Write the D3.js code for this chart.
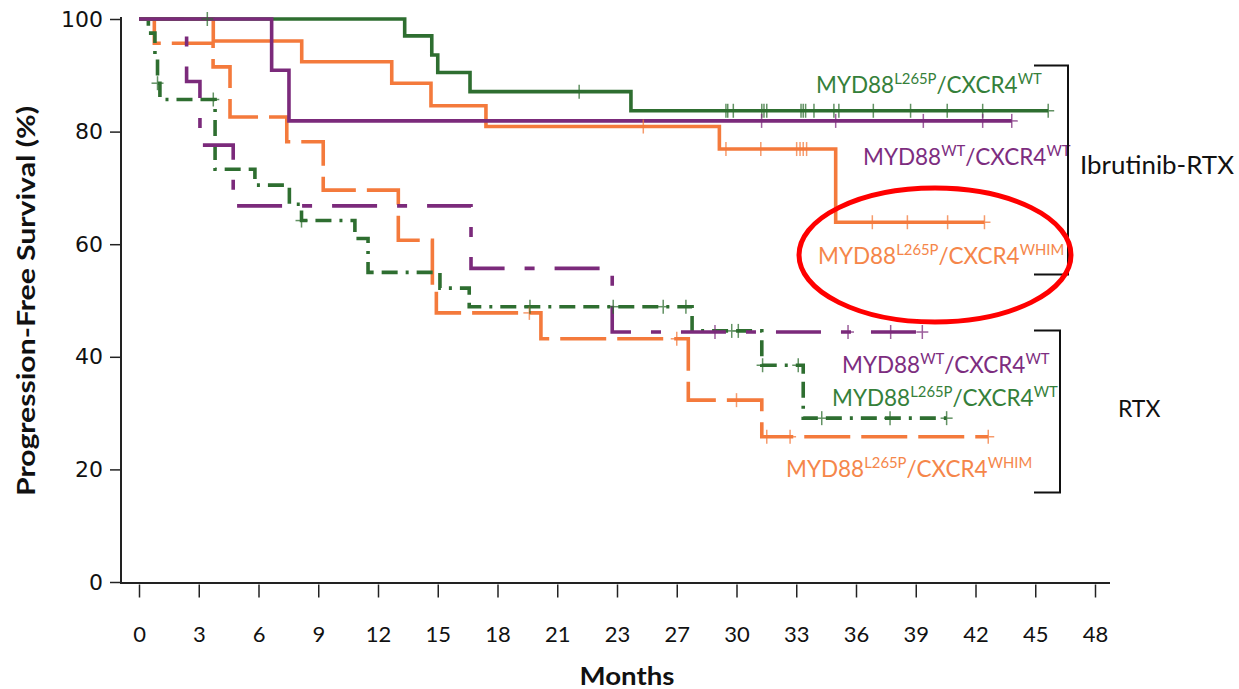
<!DOCTYPE html>
<html><head><meta charset="utf-8">
<script src="https://cdn.jsdelivr.net/npm/d3@7/dist/d3.min.js"></script>
<style>
html,body{margin:0;padding:0;background:#fff;}
svg{display:block;}
</style></head>
<body>
<svg id="chart" width="1239" height="689"></svg>
<script>
// ---------------- DATA ----------------
const xTickValues = [0,3,6,9,12,15,18,21,24,27,30,33,36,39,42,45,48];
const xTickLabels = ["0","3","6","9","12","15","18","21","23","27","30","33","36","39","42","45","48"];
const yTickValues = [0,20,40,60,80,100];

// Ibrutinib-RTX, MYD88 L265P / CXCR4 WT (green solid)
const ibrL265pWtSteps = [[0,100],[13.34,97.0],[14.70,93.6],[15.0,90.5],[16.62,87.1],[24.70,83.7]];
const ibrL265pWtEnd = 45.65;
const ibrL265pWtCensor = [3.43,22.1,29.47,29.56,29.84,31.27,31.38,31.52,33.24,33.35,33.47,33.89,34.89,35.14,36.87,38.74,40.58,42.36,45.65];

// Ibrutinib-RTX, MYD88 WT / CXCR4 WT (purple solid)
const ibrWtWtSteps = [[0,100],[6.66,90.9],[7.53,81.9]];
const ibrWtWtEnd = 43.82;
const ibrWtWtCensor = [31.26,34.98,39.38,42.36,43.82];

// Ibrutinib-RTX, MYD88 L265P / CXCR4 WHIM (orange solid)
const ibrL265pWhimSteps = [[0,100],[3.73,96.1],[8.17,92.4],[12.69,88.6],[14.66,84.6],[17.42,80.9],[29.14,76.9],[34.98,63.9]];
const ibrL265pWhimEnd = 42.45;
const ibrL265pWhimCensor = [25.32,29.47,31.22,33.02,33.19,33.35,33.52,36.82,38.58,40.6,42.45];

// RTX, MYD88 WT / CXCR4 WT (purple long-short dash)
const rtxWtWtSteps = [[0,100],[2.39,88.9],[3.06,77.6],[4.73,66.8],[16.67,55.7],[23.76,44.4]];
const rtxWtWtEnd = 39.33;
const rtxWtWtCensor = [28.92,35.6,37.74,39.33];

// RTX, MYD88 L265P / CXCR4 WT (green dash-dash-dot)
const rtxL265pWtSteps = [[0,100],[0.47,97.5],[0.80,93.6],[0.93,88.6],[1.05,85.7],[3.82,73.3],[5.82,70.5],[7.55,67.1],[8.16,64.2],[10.84,61.0],[11.5,55.0],[15.11,52.2],[16.58,48.9],[27.77,44.6],[31.27,38.5],[33.35,29.1]];
const rtxL265pWtEnd = 40.55;
const rtxL265pWtCensor = [0.93,3.73,8.16,19.63,23.81,26.32,27.46,29.76,30.09,31.31,33.1,34.28,37.71,40.55];

// RTX, MYD88 L265P / CXCR4 WHIM (orange long dash)
const rtxL265pWhimSteps = [[0,100],[0.77,95.7],[3.72,91.5],[4.57,82.6],[7.42,78.2],[9.25,69.6],[13.02,60.7],[14.73,52.0],[14.93,47.8],[20.18,43.2],[27.58,32.3],[31.27,25.8]];
const rtxL265pWhimEnd = 42.64;
const rtxL265pWhimCensor = [19.6,27.0,30.0,31.52,32.69,42.64];

// ---------------- STYLE ----------------
const GREEN = "#2e6e30", PURPLE = "#7b2a7b", ORANGE = "#f47a3c";
const GREEN_T = "#35803a", PURPLE_T = "#7d2d80", ORANGE_T = "#f5864a";

const series = [
  {steps: rtxL265pWhimSteps, end: rtxL265pWhimEnd, censor: rtxL265pWhimCensor, color: ORANGE, dash: "46,11"},
  {steps: rtxL265pWtSteps, end: rtxL265pWtEnd, censor: rtxL265pWtCensor, color: GREEN, dash: "16,8,16,8,3,8"},
  {steps: rtxWtWtSteps, end: rtxWtWtEnd, censor: rtxWtWtCensor, color: PURPLE, dash: "45,20,10,20"},
  {steps: ibrL265pWhimSteps, end: ibrL265pWhimEnd, censor: ibrL265pWhimCensor, color: ORANGE, dash: null},
  {steps: ibrL265pWtSteps, end: ibrL265pWtEnd, censor: ibrL265pWtCensor, color: GREEN, dash: null},
  {steps: ibrWtWtSteps, end: ibrWtWtEnd, censor: ibrWtWtCensor, color: PURPLE, dash: null}
];

const svg = d3.select("#chart");
const x = d3.scaleLinear().domain([0,48]).range([139,1095]);
const y = d3.scaleLinear().domain([0,100]).range([582,19]);

// axes lines
svg.append("line").attr("x1",121).attr("x2",121).attr("y1",17).attr("y2",583.5)
  .attr("stroke","#222").attr("stroke-width",2);
svg.append("line").attr("x1",120).attr("x2",1110).attr("y1",583).attr("y2",583)
  .attr("stroke","#222").attr("stroke-width",2);

// x axis
const xAxis = d3.axisBottom(x).tickValues(xTickValues)
  .tickFormat((d,i)=>xTickLabels[i]).tickSizeInner(13).tickSizeOuter(0).tickPadding(29);
const gx = svg.append("g").attr("transform","translate(0,584.5)").call(xAxis);
gx.select(".domain").remove();
gx.selectAll("line").attr("stroke","#222").attr("stroke-width",1.5);
gx.selectAll("text").attr("font-family","Lato, sans-serif").attr("font-size",22).attr("fill","#111");

// y axis
const yAxis = d3.axisLeft(y).tickValues(yTickValues).tickSizeInner(11).tickSizeOuter(0).tickPadding(7);
const gy = svg.append("g").attr("transform","translate(121,0)").call(yAxis);
gy.select(".domain").remove();
gy.selectAll("line").attr("stroke","#222").attr("stroke-width",1.5);
gy.selectAll("text").attr("font-family","DejaVu Sans, sans-serif").attr("font-size",22).attr("fill","#111");

// axis titles
svg.append("text").attr("x",627).attr("y",685).attr("text-anchor","middle")
  .attr("font-family","Lato, sans-serif").attr("font-weight","bold").attr("font-size",25)
  .attr("fill","#111").attr("textLength",95).attr("lengthAdjust","spacingAndGlyphs").text("Months");
svg.append("text").attr("transform","translate(35,301) rotate(-90)").attr("text-anchor","middle")
  .attr("font-family","Lato, sans-serif").attr("font-weight","bold").attr("font-size",24)
  .attr("fill","#111").attr("textLength",390).attr("lengthAdjust","spacingAndGlyphs")
  .text("Progression-Free Survival (%)");

// curves
const line = d3.line().x(d=>x(d[0])).y(d=>y(d[1])).curve(d3.curveStepAfter);
function valueAt(steps,t){let v=steps[0][1];for(const s of steps){if(s[0]<=t)v=s[1];}return v;}

series.forEach(s=>{
  const pts = s.steps.concat([[s.end, s.steps[s.steps.length-1][1]]]);
  const p = svg.append("path").datum(pts).attr("d",line).attr("fill","none")
    .attr("stroke",s.color).attr("stroke-width",3.6);
  if(s.dash) p.attr("stroke-dasharray",s.dash);
});
series.forEach(s=>{
  const g = svg.append("g").attr("stroke",s.color).attr("stroke-width",1.5).attr("opacity",0.75);
  s.censor.forEach(t=>{
    const cx = x(t), cy = y(valueAt(s.steps,t));
    g.append("line").attr("x1",cx).attr("x2",cx).attr("y1",cy-7).attr("y2",cy+7);
    g.append("line").attr("x1",cx-6).attr("x2",cx+6).attr("y1",cy).attr("y2",cy);
  });
});

// labels: gene names with superscripts
function label(parts, xs, yb, color, size){
  const t = svg.append("text").attr("x",xs).attr("y",yb).attr("fill",color)
    .attr("font-family","Lato, sans-serif").attr("font-size",size);
  parts.forEach(p=>{
    const ts = t.append("tspan").text(p.t);
    if(p.sup) ts.attr("font-size",size*0.66).attr("baseline-shift","super");
  });
  return t;
}
const L265P_WT = [{t:"MYD88"},{t:"L265P",sup:true},{t:"/CXCR4"},{t:"WT",sup:true}];
const WT_WT = [{t:"MYD88"},{t:"WT",sup:true},{t:"/CXCR4"},{t:"WT",sup:true}];
const L265P_WHIM = [{t:"MYD88"},{t:"L265P",sup:true},{t:"/CXCR4"},{t:"WHIM",sup:true}];

const LS = 22.5;
label(L265P_WT, 816, 93, GREEN_T, LS);
label(WT_WT, 863, 165, PURPLE_T, LS);
label(L265P_WHIM, 818, 264, ORANGE_T, LS);
label(WT_WT, 842, 373, PURPLE_T, LS);
label(L265P_WT, 832, 406, GREEN_T, LS);
label(L265P_WHIM, 786, 477, ORANGE_T, LS);

svg.append("text").attr("x",1080).attr("y",174).attr("font-family","Lato, sans-serif")
  .attr("font-size",25).attr("fill","#111").attr("textLength",154)
  .attr("lengthAdjust","spacingAndGlyphs").text("Ibrutinib-RTX");
svg.append("text").attr("x",1118).attr("y",417).attr("font-family","Lato, sans-serif")
  .attr("font-size",23).attr("fill","#111").text("RTX");

// brackets
svg.append("path").attr("d","M1034,65.5 H1068 V274.5 H1034").attr("fill","none").attr("stroke","#111").attr("stroke-width",2);
svg.append("path").attr("d","M1034,330.5 H1060 V492.5 H1034").attr("fill","none").attr("stroke","#111").attr("stroke-width",2);

// red ellipse
svg.append("ellipse").attr("cx",935).attr("cy",255).attr("rx",136).attr("ry",67)
  .attr("fill","none").attr("stroke","#ff0000").attr("stroke-width",5);
</script>
</body></html>
